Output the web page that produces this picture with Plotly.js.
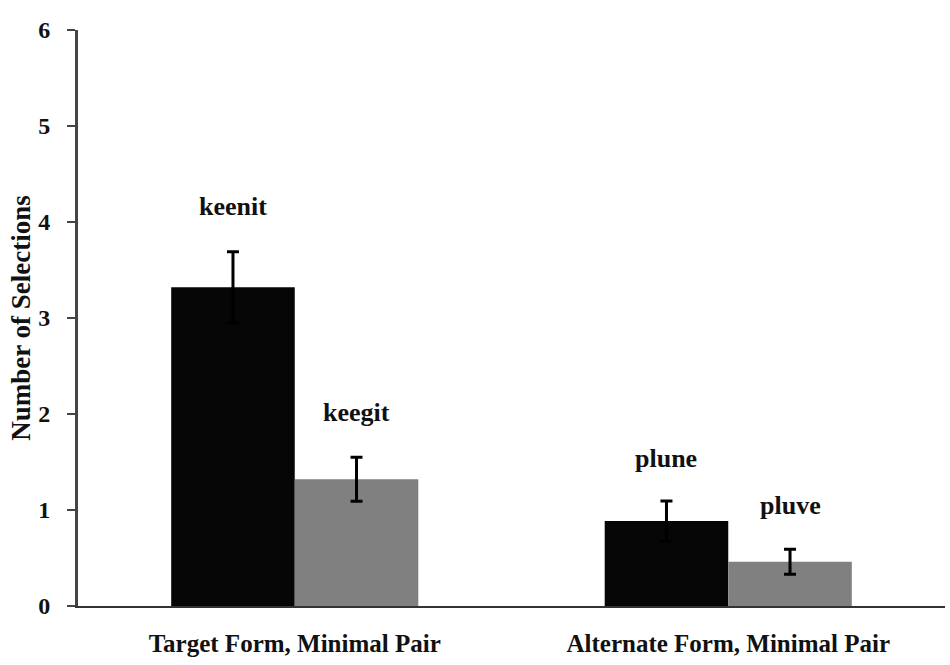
<!DOCTYPE html>
<html>
<head>
<meta charset="utf-8">
<script src="https://cdn.plot.ly/plotly-3.0.1.min.js"></script>
<style>
    html, body { margin: 0; padding: 0; background: #fff; }
    #chart { width: 950px; height: 665px; }
</style>
</head>
<body>
<div id="chart"></div>
<script>
const categories = ['Target Form, Minimal Pair', 'Alternate Form, Minimal Pair'];
const firstWords = ['keenit', 'plune'];
const secondWords = ['keegit', 'pluve'];
const firstValues = [3.32, 0.885];
const firstErrors = [0.37, 0.21];
const secondValues = [1.32, 0.46];
const secondErrors = [0.23, 0.13];
const firstLabelY = [4.16, 1.54];
const secondLabelY = [2.02, 1.05];

const serif = 'Times New Roman, Liberation Serif, DejaVu Serif, serif';

function barTrace(values, errors, color) {
    return {
        type: 'bar',
        x: categories,
        y: values,
        marker: { color: color, line: { width: 0 } },
        error_y: { type: 'data', array: errors, visible: true, color: '#000', thickness: 3, width: 6 },
        hoverinfo: 'skip',
    };
}

const wordLabels = [];
categories.forEach((category, index) => {
    wordLabels.push({
        x: category, y: firstLabelY[index], xref: 'x', yref: 'y',
        text: `<b>${firstWords[index]}</b>`, showarrow: false, xshift: -62,
        font: { family: serif, size: 26, color: '#111' },
    });
    wordLabels.push({
        x: category, y: secondLabelY[index], xref: 'x', yref: 'y',
        text: `<b>${secondWords[index]}</b>`, showarrow: false, xshift: 62,
        font: { family: serif, size: 26, color: '#111' },
    });
});

Plotly.newPlot('chart', [
    barTrace(firstValues, firstErrors, '#060606'),
    barTrace(secondValues, secondErrors, '#808080'),
], {
    width: 950,
    height: 665,
    font: { family: serif },
    barmode: 'group',
    bargap: 0.43,
    bargroupgap: 0,
    showlegend: false,
    paper_bgcolor: '#fff',
    plot_bgcolor: '#fff',
    margin: { t: 30, r: 5, b: 59, l: 78 },
    xaxis: {
        ticktext: categories.map((c) => `<b>${c}</b>`),
        tickvals: categories,
        showline: true,
        linecolor: '#333',
        linewidth: 2,
        ticks: '',
        ticklabelstandoff: 14,
        tickfont: { family: serif, size: 25, color: '#111' },
        showgrid: false,
        zeroline: false,
    },
    yaxis: {
        range: [0, 6],
        tickvals: [0, 1, 2, 3, 4, 5, 6],
        ticktext: ['<b>0</b>', '<b>1</b>', '<b>2</b>', '<b>3</b>', '<b>4</b>', '<b>5</b>', '<b>6</b>'],
        showline: true,
        linecolor: '#444',
        linewidth: 3,
        ticks: 'outside',
        ticklen: 8,
        tickwidth: 2,
        tickcolor: '#444',
        ticklabelstandoff: 12,
        tickfont: { family: serif, size: 24, color: '#111' },
        showgrid: false,
        zeroline: false,
        title: {
            text: '<b>Number of Selections</b>',
            font: { family: serif, size: 27, color: '#111' },
            standoff: 0,
        },
    },
    annotations: wordLabels,
}, { displayModeBar: false, staticPlot: true });
</script>
</body>
</html>
